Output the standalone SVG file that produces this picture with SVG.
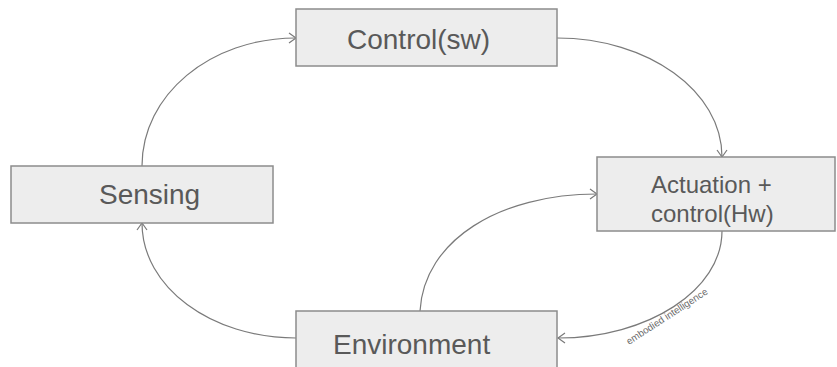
<svg xmlns="http://www.w3.org/2000/svg" width="837" height="367" viewBox="0 0 837 367">
<style>
.box{fill:#ededed;stroke:#8c8c8c;stroke-width:1.5}
.lbl{font-family:"Liberation Sans",Arial,sans-serif;fill:#595959}
.big{font-size:28px}
.mid{font-size:24px}
.edge{fill:none;stroke:#7a7a7a;stroke-width:1.2;marker-end:url(#arr)}
.small{font-family:"Liberation Sans",Arial,sans-serif;font-size:9.8px;fill:#6a6a6a}
</style>
<defs>
<marker id="arr" markerWidth="12" markerHeight="12" refX="9" refY="6" orient="auto" markerUnits="userSpaceOnUse">
<path d="M2,1 L9,6 L2,11" fill="none" stroke="#7a7a7a" stroke-width="1.2"/>
</marker>
</defs>
<rect width="837" height="367" fill="#ffffff"/>
<g id="connectors">
<path class="edge" d="M142,166 C142,95 210,38 296,38"/>
<path class="edge" d="M557,38 C648,38 722,91 722,157"/>
<path class="edge" d="M722,231 C722,290 648,338 558,338"/>
<path class="edge" d="M420,311 C424,240 500,194 597,194"/>
<path class="edge" d="M296,338 C211,338 142,287 142,223"/>
<text class="small" x="629" y="345" transform="rotate(-33 629 345)">embodied intelligence</text>
</g>
<g id="control-sw">
<rect class="box" x="296" y="9" width="261" height="57"/>
<text class="lbl big" x="347" y="49">Control(sw)</text>
</g>
<g id="sensing">
<rect class="box" x="11" y="166" width="262" height="57"/>
<text class="lbl big" x="99" y="204">Sensing</text>
</g>
<g id="actuation">
<rect class="box" x="597" y="157" width="238" height="74"/>
<text class="lbl mid" x="651" y="193">Actuation +</text>
<text class="lbl mid" x="651" y="222">control(Hw)</text>
</g>
<g id="environment">
<rect class="box" x="296" y="311" width="261" height="70"/>
<text class="lbl big" x="333" y="354">Environment</text>
</g>
</svg>
